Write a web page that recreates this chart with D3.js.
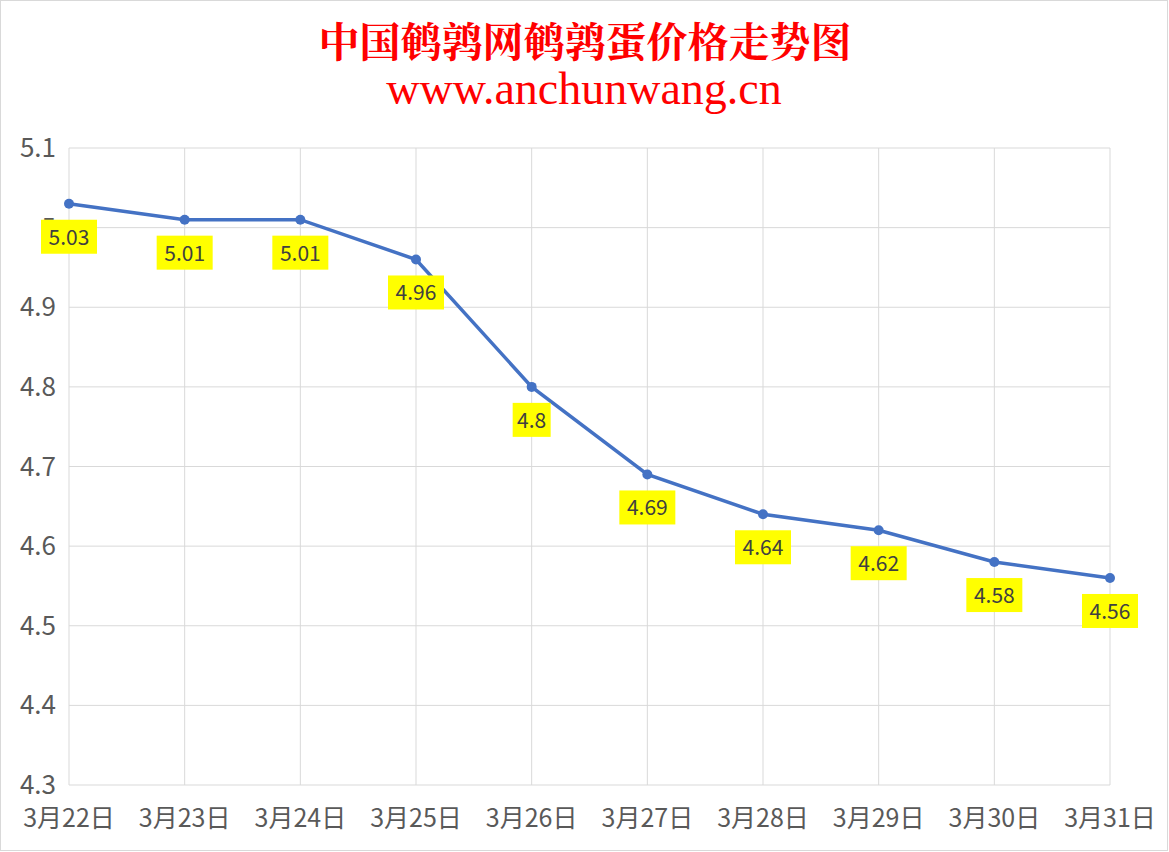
<!DOCTYPE html><html><head><meta charset="utf-8"><script src="https://cdn.jsdelivr.net/npm/d3@7"></script>
<style>body{margin:0;background:#fff}</style></head><body><svg id="c" width="1169" height="852"></svg>
<script>
const categories=["3月22日","3月23日","3月24日","3月25日","3月26日","3月27日","3月28日","3月29日","3月30日","3月31日"];
const values=[5.03,5.01,5.01,4.96,4.8,4.69,4.64,4.62,4.58,4.56];
const yTicks=[4.3,4.4,4.5,4.6,4.7,4.8,4.9,5,5.1];
const svg=d3.select("#c");
svg.append("rect").attr("x",0.5).attr("y",0.5).attr("width",1167).attr("height",850).attr("fill","#fff").attr("stroke","#d9d9d9");
const x=d3.scalePoint().domain(categories).range([69,1110]);
const y=d3.scaleLinear().domain([4.3,5.1]).range([785,148]);
const g=svg.append("g");
yTicks.forEach(t=>g.append("line").attr("x1",69).attr("x2",1110).attr("y1",y(t)).attr("y2",y(t)).attr("stroke","#d9d9d9"));
categories.forEach(c=>g.append("line").attr("x1",x(c)).attr("x2",x(c)).attr("y1",148).attr("y2",785).attr("stroke","#d9d9d9"));
const f="'Microsoft YaHei','Noto Sans CJK SC',sans-serif";
yTicks.forEach(t=>g.append("text").attr("x",56).attr("y",y(t)+9).attr("text-anchor","end").attr("font-family",f).attr("font-size",26).attr("fill","#595959").text(String(t)));
categories.forEach(c=>g.append("text").attr("x",x(c)).attr("y",827).attr("text-anchor","middle").attr("font-family",f).attr("font-size",25).attr("fill","#595959").text(c));
const line=d3.line().x((d,i)=>x(categories[i])).y(d=>y(d));
g.append("path").datum(values).attr("d",line).attr("fill","none").attr("stroke","#4472c4").attr("stroke-width",3.5);
values.forEach((v,i)=>{
 g.append("circle").attr("cx",x(categories[i])).attr("cy",y(v)).attr("r",5).attr("fill","#4472c4");
 const s=String(v), w=s.length>3?56:38;
 g.append("rect").attr("x",x(categories[i])-w/2).attr("y",y(v)+16).attr("width",w).attr("height",34).attr("fill","#ffff00");
 g.append("text").attr("x",x(categories[i])).attr("y",y(v)+41).attr("text-anchor","middle").attr("font-family",f).attr("font-size",21).attr("fill","#404040").text(s);
});
svg.append("text").attr("x",585).attr("y",57).attr("text-anchor","middle").attr("font-family","'Noto Serif CJK SC','Noto Sans CJK SC',serif").attr("font-size",41).attr("font-weight","bold").attr("fill","#ff0000").text("中国鹌鹑网鹌鹑蛋价格走势图");
svg.append("text").attr("x",584).attr("y",104).attr("text-anchor","middle").attr("font-family","'Liberation Serif','DejaVu Serif',serif").attr("font-size",46).attr("fill","#ff0000").text("www.anchunwang.cn");
</script></body></html>
